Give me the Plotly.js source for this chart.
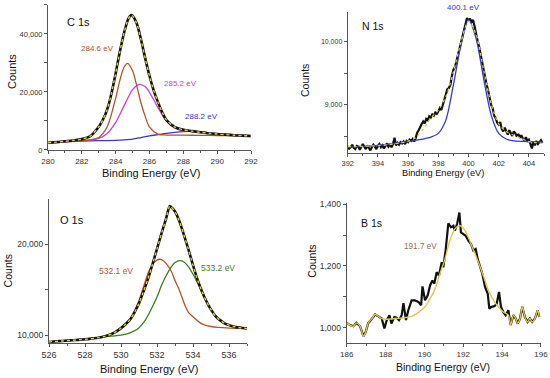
<!DOCTYPE html>
<html>
<head>
<meta charset="utf-8">
<script src="https://cdn.plot.ly/plotly-3.0.1.min.js"></script>
<style>html,body{margin:0;padding:0;background:#fff;}#chart{width:550px;height:378px;}</style>
</head>
<body>
<div id="chart"></div>
<script>
// ---------- C 1s ----------
var c1sX = [280, 280.5, 281, 281.5, 282, 282.5, 283, 283.25, 283.5, 283.75, 284, 284.25, 284.5, 284.75, 284.9, 285, 285.25, 285.5, 285.75, 286, 286.25, 286.5, 286.75, 287, 287.5, 288, 288.5, 289, 289.5, 290, 290.5, 291, 291.5, 292];
var c1sCounts = [2500, 2700, 3000, 3300, 3750, 4800, 8000, 10500, 14000, 19500, 26500, 34000, 40500, 45300, 46500, 46300, 43500, 38000, 31500, 25500, 20500, 16500, 13000, 10300, 7900, 7000, 6500, 6100, 5800, 5500, 5300, 5100, 4950, 4850];
var c1sPk1X = [280, 281, 282, 282.5, 283, 283.5, 284, 284.25, 284.5, 284.7, 285, 285.25, 285.5, 285.75, 286, 286.5, 287, 288, 289, 290, 291, 292];
var c1sPk1 = [2500, 2900, 3150, 3500, 4300, 8000, 17900, 24100, 28600, 29900, 27300, 22000, 16100, 11500, 7900, 5500, 5150, 5100, 5050, 5000, 4900, 4850];
var c1sPk2X = [280, 281, 282, 282.5, 283, 283.5, 284, 284.5, 285, 285.4, 285.75, 286, 286.5, 287, 287.5, 288, 288.5, 289, 290, 291, 292];
var c1sPk2 = [2500, 2900, 3150, 3450, 4000, 5700, 9500, 15300, 20800, 22650, 21800, 19900, 14600, 10000, 7500, 6600, 6400, 6200, 5550, 5100, 4850];
var c1sPk3X = [280, 281, 282, 283, 284, 284.5, 285, 285.5, 286, 286.5, 287, 287.5, 288, 288.5, 289, 289.5, 290, 290.5, 291, 291.5, 292];
var c1sPk3 = [2500, 2900, 3100, 3200, 3350, 3500, 3750, 4300, 4850, 5300, 5750, 6100, 6350, 6400, 6200, 5900, 5550, 5300, 5100, 4950, 4850];

// ---------- N 1s ----------
var n1sX = [];
for (var i = 0; i < 130; i++) { n1sX.push(+(392 + i * 0.1).toFixed(1)); }
var n1sCounts = [
  8350, 8310, 8330, 8370, 8320, 8300, 8350, 8340, 8290, 8330,
  8380, 8340, 8300, 8360, 8320, 8280, 8330, 8370, 8340, 8300,
  8350, 8380, 8330, 8360, 8310, 8350, 8390, 8340, 8370, 8330,
  8380, 8480, 8360, 8400, 8370, 8410, 8390, 8420, 8380, 8430,
  8410, 8450, 8430, 8460, 8420, 8470, 8560, 8600, 8660, 8700,
  8740, 8710, 8780, 8760, 8820, 8800, 8850, 8830, 8880, 8860,
  8900, 8950, 8920, 9010, 9080, 9150, 9250, 9270, 9320, 9460,
  9560, 9600, 9700, 9760, 9880, 10000, 10080, 10150, 10270, 10380,
  10330, 10370, 10320, 10350, 10250, 10120, 10020, 9930, 9800, 9690,
  9560, 9440, 9320, 9230, 9090, 9000, 8950, 8830, 8790, 8720,
  8690, 8730, 8620, 8580, 8640, 8570, 8530, 8600, 8540, 8510,
  8580, 8550, 8500, 8540, 8480, 8520, 8470, 8440, 8490, 8430,
  8450, 8390, 8310, 8420, 8360, 8430, 8380, 8410, 8440, 8400
];
var n1sFitX = [392, 392.5, 393, 393.5, 394, 394.5, 395, 395.5, 396, 396.5, 397, 397.5, 398, 398.5, 399, 399.5, 400, 400.5, 401, 401.5, 402, 402.5, 403, 403.5, 404, 404.5, 404.9];
var n1sFit = [8340, 8340, 8345, 8350, 8355, 8365, 8380, 8400, 8425, 8480, 8620, 8790, 8920, 9130, 9520, 10000, 10330, 10120, 9560, 9020, 8700, 8580, 8520, 8470, 8420, 8400, 8390];
var n1sPkX = [392, 394, 396, 396.5, 397, 397.5, 398, 398.5, 399, 399.5, 400, 400.5, 401, 401.5, 402, 402.5, 403, 404, 404.9];
var n1sPk = [8330, 8360, 8420, 8440, 8460, 8490, 8550, 8760, 9320, 9950, 10350, 10060, 9420, 8840, 8550, 8460, 8430, 8420, 8415];

// ---------- O 1s ----------
var o1sX = [526, 526.25, 526.5, 526.75, 527, 527.25, 527.5, 527.75, 528, 528.25, 528.5, 528.75, 529, 529.25, 529.5, 529.75, 530, 530.25, 530.5, 530.75, 531, 531.25, 531.5, 531.75, 532, 532.25, 532.5, 532.7, 532.75, 533, 533.25, 533.5, 533.75, 534, 534.25, 534.5, 534.75, 535, 535.25, 535.5, 535.75, 536, 536.25, 536.5, 536.75, 537];
var o1sCounts = [9250, 9300, 9330, 9360, 9400, 9430, 9460, 9500, 9540, 9590, 9650, 9720, 9820, 9950, 10150, 10420, 10780, 11200, 11700, 12500, 13500, 14800, 16200, 17800, 19500, 21200, 22800, 24200, 24150, 23600, 22500, 21000, 19400, 17700, 16100, 14800, 13700, 12800, 12100, 11650, 11300, 11100, 10950, 10850, 10780, 10740];
var o1sPk1X = [526, 526.5, 527, 527.5, 528, 528.5, 529, 529.5, 530, 530.5, 530.8, 531, 531.33, 531.5, 531.75, 532, 532.13, 532.25, 532.5, 532.8, 533, 533.2, 533.55, 533.75, 534.1, 534.4, 534.67, 535, 535.4, 536, 537];
var o1sPk1 = [9250, 9330, 9400, 9460, 9540, 9640, 9800, 10100, 10650, 11700, 12900, 13800, 15800, 16800, 17800, 18250, 18350, 18300, 17900, 17000, 16000, 15150, 13300, 12500, 11840, 11350, 11100, 10950, 10850, 10780, 10740];
var o1sPk2X = [526, 527, 528, 528.5, 529, 529.5, 530, 530.5, 530.96, 531.3, 531.7, 532, 532.26, 532.5, 532.8, 533, 533.28, 533.5, 533.74, 534, 534.3, 534.6, 534.85, 535.1, 535.4, 535.75, 536.15, 536.5, 537];
var o1sPk2 = [9250, 9400, 9560, 9680, 9800, 9900, 10000, 10250, 10740, 11500, 12940, 14200, 15510, 16500, 17540, 18000, 18200, 18050, 17540, 16700, 15510, 14300, 13300, 12500, 11840, 11300, 10990, 10850, 10740];

// ---------- B 1s ----------
var b1sX = [186.0, 186.17, 186.34, 186.5, 186.69, 186.86, 186.98, 187.1, 187.3, 187.46, 187.63, 187.8, 187.94, 188.06, 188.2, 188.3, 188.45, 188.57, 188.69, 188.83, 188.92, 189.05, 189.17, 189.34, 189.5, 189.69, 189.83, 189.9, 190.03, 190.17, 190.29, 190.41, 190.51, 190.63, 190.75, 190.89, 190.97, 191.09, 191.23, 191.37, 191.49, 191.57, 191.69, 191.8, 191.88, 192.0, 192.12, 192.26, 192.4, 192.52, 192.64, 192.74, 192.86, 192.98, 193.12, 193.26, 193.34, 193.46, 193.6, 193.72, 193.84, 193.94, 194.06, 194.18, 194.32, 194.44, 194.58, 194.7, 194.8, 194.92, 195.04, 195.17, 195.31, 195.43, 195.55, 195.69, 195.83, 195.91];
var b1sCounts = [1016, 1009, 1005, 1016, 1005, 973, 987, 1014, 1030, 1043, 1037, 1030, 998, 1025, 1041, 1014, 1035, 1033, 1025, 1041, 1080, 1025, 1057, 1089, 1089, 1084, 1073, 1134, 1089, 1105, 1137, 1153, 1143, 1180, 1169, 1212, 1196, 1250, 1338, 1325, 1330, 1314, 1338, 1373, 1309, 1303, 1298, 1282, 1271, 1250, 1255, 1223, 1196, 1175, 1132, 1110, 1062, 1068, 1070, 1078, 1116, 1068, 1051, 1041, 1057, 1009, 1041, 1030, 1014, 1030, 1068, 1035, 1019, 1030, 1019, 1030, 1057, 1035];
var b1sFitX = [186.0, 186.17, 186.34, 186.5, 186.69, 186.86, 186.98, 187.1, 187.3, 187.46, 187.63, 187.8, 188.0, 188.5, 189.0, 189.34, 189.7, 190.03, 190.3, 190.55, 190.8, 191.06, 191.3, 191.57, 191.83, 192.05, 192.26, 192.5, 192.78, 193.05, 193.3, 193.55, 193.8, 194.06, 194.32, 194.44, 194.58, 194.7, 194.8, 194.92, 195.04, 195.17, 195.31, 195.43, 195.55, 195.69, 195.83, 195.91];
var b1sFit = [1016, 1009, 1005, 1016, 1005, 973, 987, 1014, 1030, 1043, 1037, 1030, 1028, 1030, 1033, 1037, 1050, 1068, 1095, 1126, 1175, 1223, 1280, 1320, 1330, 1318, 1293, 1255, 1212, 1165, 1121, 1090, 1068, 1051, 1041, 1009, 1041, 1030, 1014, 1030, 1068, 1035, 1019, 1030, 1019, 1030, 1057, 1035];

// ---------- labels ----------
var panelNames = ['C 1s', 'N 1s', 'O 1s', 'B 1s'];
var peakLabels = ['284.6 eV', '285.2 eV', '288.2 eV', '400.1 eV', '532.1 eV', '533.2 eV', '191.7 eV'];
var xTitle = 'Binding Energy (eV)';
var yTitle = 'Counts';

var BLACK = '#111111', YEL = '#d8d03c', BROWN = '#b4532a', MAG = '#c93fd6', BLUE = '#3636d2', GREEN = '#3e7d22', BYEL = '#dcc850';

function ln(x, y, xa, ya, color, width, dash, smooth) {
  return {x: x, y: y, xaxis: xa, yaxis: ya, type: 'scatter', mode: 'lines', hoverinfo: 'skip',
    line: {color: color, width: width, dash: dash || 'solid', shape: smooth ? 'spline' : 'linear', smoothing: 0.8}};
}

var data = [
  ln(c1sPk3X, c1sPk3, 'x', 'y', BLUE, 1.3, null, true),
  ln(c1sPk2X, c1sPk2, 'x', 'y', MAG, 1.3, null, true),
  ln(c1sPk1X, c1sPk1, 'x', 'y', BROWN, 1.3, null, true),
  ln(c1sX, c1sCounts, 'x', 'y', BLACK, 2.6, null, true),
  ln(c1sX, c1sCounts, 'x', 'y', YEL, 1.4, '3px,3px', true),

  ln(n1sX, n1sCounts, 'x2', 'y2', BLACK, 2.2, null, false),
  ln(n1sPkX, n1sPk, 'x2', 'y2', BLUE, 1.3, null, true),
  ln(n1sFitX, n1sFit, 'x2', 'y2', YEL, 1.3, '3px,3px', true),

  ln(o1sPk1X, o1sPk1, 'x3', 'y3', BROWN, 1.3, null, true),
  ln(o1sPk2X, o1sPk2, 'x3', 'y3', GREEN, 1.3, null, true),
  ln(o1sX, o1sCounts, 'x3', 'y3', BLACK, 2.6, null, true),
  ln(o1sX, o1sCounts, 'x3', 'y3', YEL, 1.4, '3px,3px', true),

  ln(b1sX, b1sCounts, 'x4', 'y4', BLACK, 2.2, null, false),
  ln(b1sFitX, b1sFit, 'x4', 'y4', BYEL, 1.4, null, true)
];

var FONT = 'Arial, "Liberation Sans", sans-serif';
function xax(domain, range, anchor, fs) {
  return {domain: domain, range: range, anchor: anchor, dtick: 2, tick0: 0, ticks: 'outside', ticklen: 3, tickwidth: 1,
    tickcolor: '#555', showline: true, linecolor: '#555', linewidth: 1, showgrid: false, zeroline: false,
    minor: {dtick: 1, ticks: 'outside', ticklen: 2, tickcolor: '#555'},
    tickfont: {family: FONT, size: fs, color: '#333'}, fixedrange: true};
}
function yax(domain, range, anchor, dtick, mdtick, fs) {
  return {domain: domain, range: range, anchor: anchor, dtick: dtick, tick0: 0, ticks: 'outside', ticklen: 3, tickwidth: 1,
    tickcolor: '#555', showline: true, linecolor: '#555', linewidth: 1, showgrid: false, zeroline: false,
    tickformat: ',d', minor: {dtick: mdtick, ticks: 'outside', ticklen: 3, tickcolor: '#555'},
    tickfont: {family: FONT, size: fs, color: '#333'}, fixedrange: true};
}

function ann(text, x, y, size, color, angle) {
  return {text: text, x: x, y: y, xref: 'paper', yref: 'paper', xanchor: 'center', yanchor: 'middle',
    showarrow: false, textangle: angle || 0, font: {family: FONT, size: size, color: color}};
}

var layout = {
  width: 550, height: 378, margin: {l: 0, r: 0, t: 0, b: 0}, showlegend: false,
  paper_bgcolor: '#ffffff', plot_bgcolor: 'rgba(0,0,0,0)',
  xaxis: xax([0.0873, 0.4564], [280, 292], 'y', 8),
  yaxis: yax([0.6032, 0.9868], [0, 50000], 'x', 20000, 10000, 7.5),
  xaxis2: xax([0.6322, 0.9891], [392, 405], 'y2', 7.5),
  yaxis2: yax([0.5952, 0.9683], [8238, 10476], 'x2', 1000, 500, 7),
  xaxis3: xax([0.0891, 0.4491], [526, 537], 'y3', 9),
  yaxis3: yax([0.0918, 0.4728], [9100, 24950], 'x3', 10000, 5000, 8.5),
  xaxis4: xax([0.6304, 0.9836], [186, 196], 'y4', 8),
  yaxis4: yax([0.0918, 0.4640], [950, 1405], 'x4', 200, 100, 8.5),
  annotations: [
    ann(panelNames[0], 0.1436, 0.9418, 11, '#111'),
    ann(peakLabels[0], 0.1773, 0.8704, 8, BROWN),
    ann(peakLabels[1], 0.3290, 0.7778, 8, MAG),
    ann(peakLabels[2], 0.3664, 0.6905, 8, BLUE),
    ann(yTitle, 0.0218, 0.8122, 11, '#111', -90),
    ann(xTitle, 0.2745, 0.5431, 11, '#111'),

    ann(panelNames[1], 0.6773, 0.9312, 10.5, '#111'),
    ann(peakLabels[3], 0.8427, 0.9807, 8, BLUE),
    ann(yTitle, 0.5545, 0.7884, 10.5, '#111', -90),
    ann(xTitle, 0.8055, 0.5415, 9.2, '#111'),

    ann(panelNames[2], 0.1309, 0.4180, 11, '#111'),
    ann(peakLabels[4], 0.2109, 0.2830, 8.5, BROWN),
    ann(peakLabels[5], 0.3964, 0.2910, 8.5, GREEN),
    ann(yTitle, 0.0152, 0.2830, 10.5, '#111', -90),
    ann(xTitle, 0.2700, 0.0238, 11, '#111'),

    ann(panelNames[3], 0.6760, 0.4100, 10.5, '#111'),
    ann(peakLabels[6], 0.7645, 0.3492, 8.2, '#a06a3c'),
    ann(yTitle, 0.5673, 0.3077, 10.5, '#111', -90),
    ann(xTitle, 0.8055, 0.0300, 10.5, '#111')
  ]
};

Plotly.newPlot('chart', data, layout, {displayModeBar: false, staticPlot: true});
</script>
</body>
</html>
